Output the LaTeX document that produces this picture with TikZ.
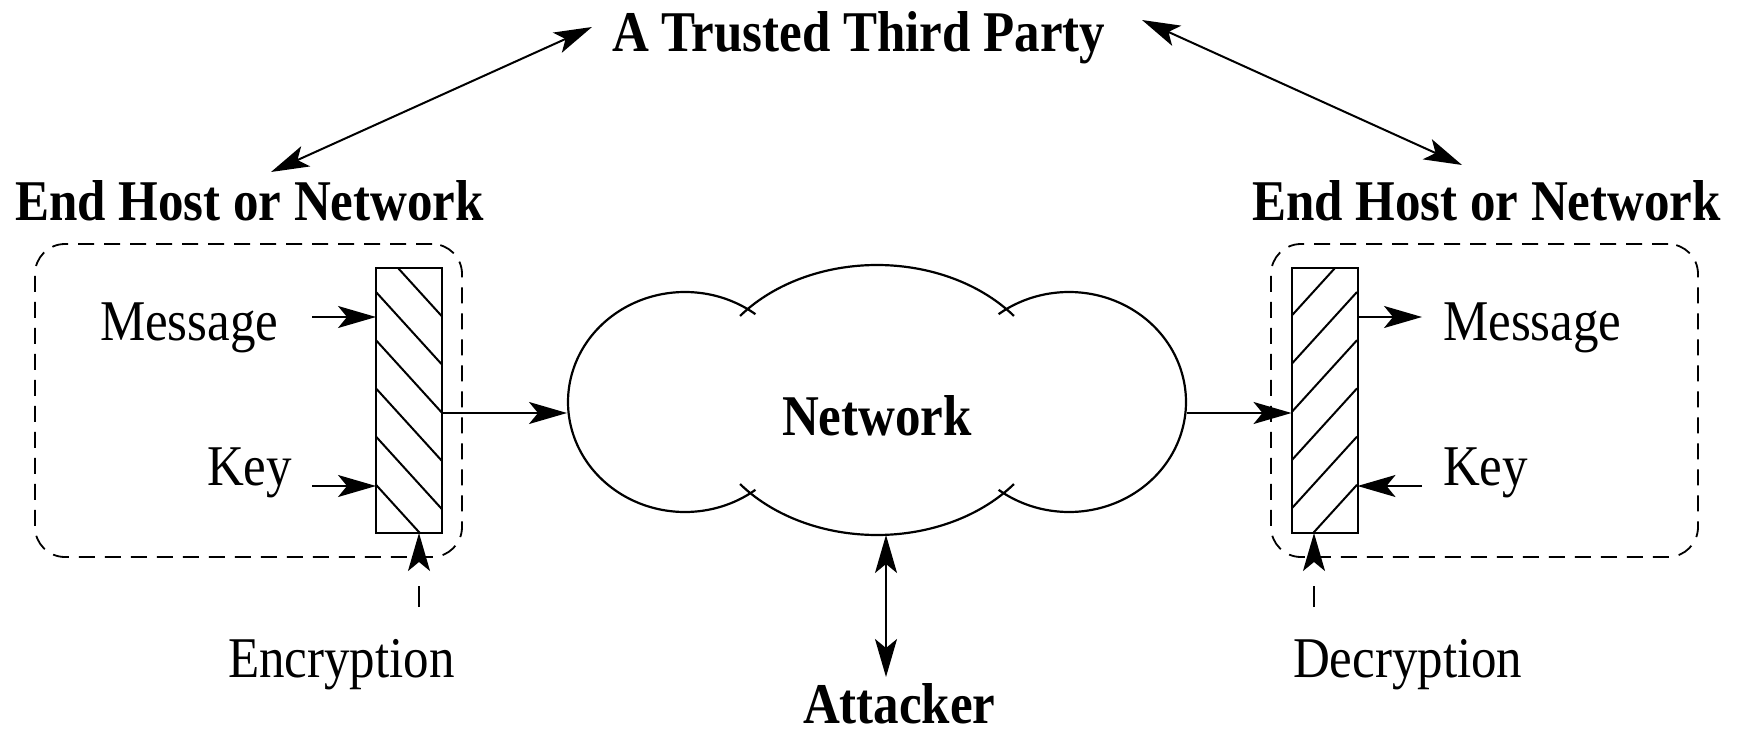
\documentclass[tikz,border=0pt]{standalone}
\usepackage{fontspec}
\setmainfont{Liberation Serif}
\usepackage{graphicx}
\usetikzlibrary{arrows.meta}
% slightly tall lettering
\newcommand\stretchtxt[1]{\scalebox{1}[1.13]{#1}}
\begin{document}
\begin{tikzpicture}[x=1pt,y=-1pt,
  every node/.style={inner sep=0pt, outer sep=0pt},
  lbl/.style={anchor=base west, font=\fontsize{51pt}{60pt}\selectfont},
  bold/.style={anchor=base west, font=\fontsize{51pt}{60pt}\selectfont\bfseries},
  arr/.style={line width=2pt, -{Stealth[length=38pt,width=22pt,inset=9pt]}},
  darr/.style={line width=2pt, {Stealth[length=38pt,width=22pt,inset=9pt]}-{Stealth[length=38pt,width=22pt,inset=9pt]}},
  hostbox/.style={draw, line width=1.8pt, dash pattern=on 16pt off 10pt, rounded corners=30pt,
                  minimum width=427pt, minimum height=313pt},
  cipher/.style={draw, line width=2pt, minimum width=66pt, minimum height=265pt},
  hatch/.style={line width=2pt},
  lobe/.style={line width=2.2pt}]
\useasboundingbox (0,0) rectangle (1740,730);

% titles
\node[bold] (ttp) at (612,52) {\stretchtxt{A Trusted Third Party}};
\node[bold] (lhostlbl) at (15,221) {\stretchtxt{End Host or Network}};
\node[bold] (rhostlbl) at (1252,221) {\stretchtxt{End Host or Network}};

% host boundaries
\node[hostbox] (lhost) at (248.5,400.5) {};
\node[hostbox] (rhost) at (1484.5,400.5) {};

% cipher blocks
\node[cipher] (enc) at (409,400.5) {};
\node[cipher] (dec) at (1324.5,400.5) {};
\begin{scope}
  \clip (enc.south west) rectangle (enc.north east);
  \foreach \k in {-1,...,5} \draw[hatch] (376,{292+48.2*\k}) -- ++(66,72.6);
\end{scope}
\begin{scope}
  \clip (dec.south west) rectangle (dec.north east);
  \foreach \k in {-1,...,5} \draw[hatch] (1357,{292+48.2*\k}) -- ++(-65,71.5);
\end{scope}

% inputs and outputs
\node[lbl] (lmsg) at (100,340) {\stretchtxt{Message}};
\node[lbl] (lkey) at (207,485) {\stretchtxt{Key}};
\node[lbl] (rmsg) at (1443,340) {\stretchtxt{Message}};
\node[lbl] (rkey) at (1443,485) {\stretchtxt{Key}};
\node[lbl] (enclbl) at (228,677) {\stretchtxt{Encryption}};
\node[lbl] (declbl) at (1293,677) {\stretchtxt{Decryption}};

% the network cloud
\draw[lobe] plot[domain=-53:-307, samples=90, smooth] ({685+117*cos(\x)}, {402+110*sin(\x)});
\draw[lobe] plot[domain=-141.5:-38.5, samples=60, smooth] ({877+175*cos(\x)}, {400+135*sin(\x)});
\draw[lobe] plot[domain=141.5:38.5, samples=60, smooth] ({877+175*cos(\x)}, {400+135*sin(\x)});
\draw[lobe] plot[domain=-127:127, samples=90, smooth] ({1069+117*cos(\x)}, {402+110*sin(\x)});
\node[bold, anchor=base] (net) at (877,435) {\stretchtxt{Network}};
\node[bold] (att) at (803,723) {\stretchtxt{Attacker}};

% connector end points
\coordinate (cloudW) at (567,413);
\coordinate (cloudE) at (1187,413);
\coordinate (cloudS) at (886,535);
\coordinate (attTop) at (886,677);
\coordinate (mIn) at (312,317);
\coordinate (kIn) at (312,486);
\coordinate (mOut) at (1422,317);
\coordinate (kOut) at (1422,486);
\coordinate (encCtl) at (419,607);
\coordinate (decCtl) at (1314,607);
\coordinate (ttpL) at (592,27);
\coordinate (hostL) at (271,172);
\coordinate (ttpR) at (1142,20);
\coordinate (hostR) at (1462,165);

% connectors
\draw[arr] (mIn) -- (mIn -| enc.west);
\draw[arr] (kIn) -- (kIn -| enc.west);
\draw[arr] (enc.east |- cloudW) -- (cloudW);
\draw[arr] (cloudE) -- (cloudE -| dec.west);
\draw[arr] (mOut -| dec.east) -- (mOut);
\draw[arr] (kOut) -- (kOut -| dec.east);
\draw[arr, dash pattern=on 21pt off 80pt] (encCtl) -- (encCtl |- enc.south);
\draw[arr, dash pattern=on 21pt off 80pt] (decCtl) -- (decCtl |- dec.south);
\draw[darr] (cloudS) -- (attTop);
\draw[darr] (hostL) -- (ttpL);
\draw[darr] (ttpR) -- (hostR);
\end{tikzpicture}
\end{document}
